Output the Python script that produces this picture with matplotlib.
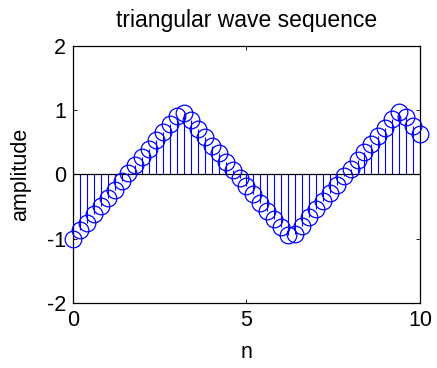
import numpy as np
import matplotlib.pyplot as plt

# sample positions and sequence values
n = [0.0, 0.2, 0.4, 0.6, 0.8, 1.0, 1.2, 1.4, 1.6, 1.8,
     2.0, 2.2, 2.4, 2.6, 2.8, 3.0, 3.2, 3.4, 3.6, 3.8,
     4.0, 4.2, 4.4, 4.6, 4.8, 5.0, 5.2, 5.4, 5.6, 5.8,
     6.0, 6.2, 6.4, 6.6, 6.8, 7.0, 7.2, 7.4, 7.6, 7.8,
     8.0, 8.2, 8.4, 8.6, 8.8, 9.0, 9.2, 9.4, 9.6, 9.8, 10.0]
amp = [-1.00, -0.87, -0.75, -0.62, -0.49, -0.36, -0.24, -0.11, 0.02, 0.15,
       0.27, 0.40, 0.53, 0.66, 0.78, 0.91, 0.96, 0.84, 0.71, 0.58,
       0.45, 0.33, 0.20, 0.07, -0.06, -0.18, -0.31, -0.44, -0.57, -0.69,
       -0.82, -0.95, -0.93, -0.80, -0.67, -0.54, -0.42, -0.29, -0.16, -0.03,
       0.09, 0.22, 0.35, 0.48, 0.60, 0.73, 0.86, 0.98, 0.89, 0.76, 0.63]

plt.rcParams['font.family'] = ['Liberation Sans', 'DejaVu Sans']
plt.rcParams['axes.unicode_minus'] = False

fig = plt.figure(figsize=(4.37, 3.68), dpi=100)
ax = fig.add_axes([0.167, 0.177, 0.794, 0.698])

# stems
ax.vlines(n, 0, amp, colors='#0000ff', linewidth=0.8)
ax.plot(n, amp, 'o', markersize=12, markerfacecolor='none',
        markeredgecolor='#0000ff', markeredgewidth=0.9, clip_on=False, zorder=3)
ax.axhline(0, color='black', linewidth=0.9)

ax.set_xlim(0, 10)
ax.set_ylim(-2, 2)
ax.set_xticks([0, 5, 10])
ax.set_yticks([-2, -1, 0, 1, 2])
ax.tick_params(direction='in', length=3, labelsize=15.5, top=True, right=True,
               pad=5, width=0.6)
for s in ax.spines.values():
    s.set_linewidth(0.9)

ax.set_title('triangular wave sequence', fontsize=16.5, pad=14)
ax.set_xlabel('n', fontsize=15.5, labelpad=8)
ax.set_ylabel('amplitude', fontsize=15.5, labelpad=11)

plt.savefig('out.png', dpi=100)
